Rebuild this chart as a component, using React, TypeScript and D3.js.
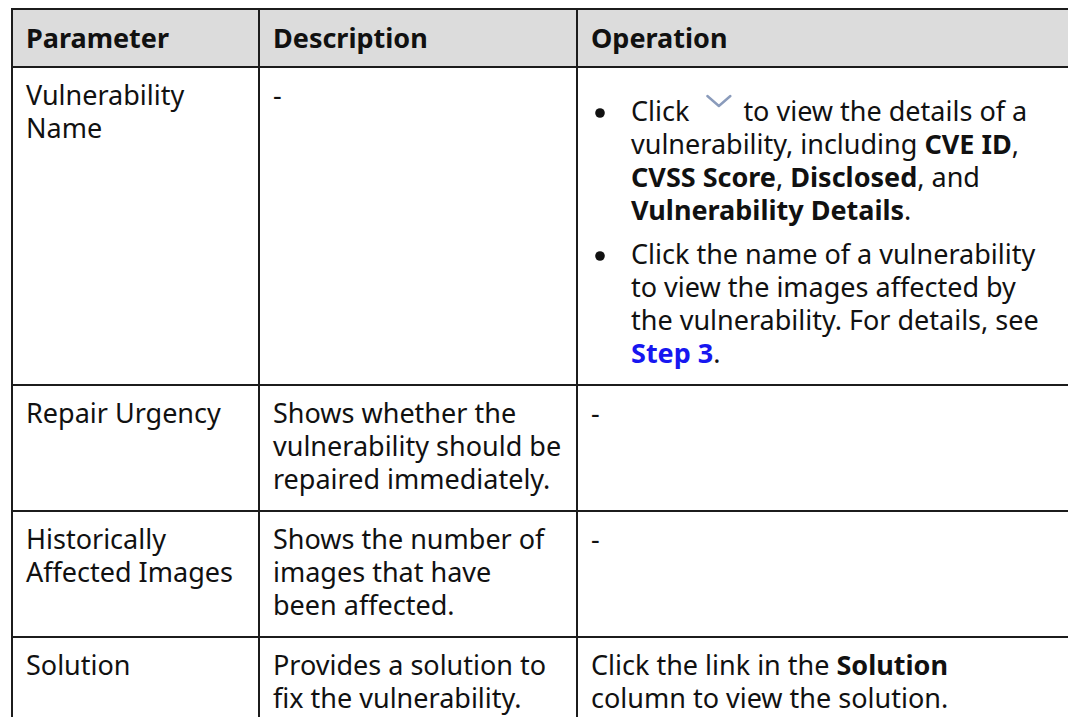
import { useRef, useEffect } from 'react';
import * as d3 from 'd3';

type Run = { t?: string; b?: boolean; link?: boolean; icon?: boolean };
type Line = Run[];

// table content
const headers = ['Parameter', 'Description', 'Operation'];

const paramLines: string[][] = [
  ['Vulnerability', 'Name'],
  ['Repair Urgency'],
  ['Historically', 'Affected Images'],
  ['Solution'],
];

const descLines: string[][] = [
  ['-'],
  ['Shows whether the', 'vulnerability should be', 'repaired immediately.'],
  ['Shows the number of', 'images that have', 'been affected.'],
  ['Provides a solution to', 'fix the vulnerability.'],
];

const opBullets: Line[][][] = [
  [
    [
      [{ t: 'Click' }, { icon: true }, { t: 'to view the details of a' }],
      [{ t: 'vulnerability, including ' }, { t: 'CVE ID', b: true }, { t: ',' }],
      [{ t: 'CVSS Score', b: true }, { t: ', ' }, { t: 'Disclosed', b: true }, { t: ', and' }],
      [{ t: 'Vulnerability Details', b: true }, { t: '.' }],
    ],
    [
      [{ t: 'Click the name of a vulnerability' }],
      [{ t: 'to view the images affected by' }],
      [{ t: 'the vulnerability. For details, see' }],
      [{ t: 'Step 3', link: true }, { t: '.' }],
    ],
  ],
  [],
  [],
  [],
];

const opLines: Line[][] = [
  [],
  [[{ t: '-' }]],
  [[{ t: '-' }]],
  [[{ t: 'Click the link in the ' }, { t: 'Solution', b: true }], [{ t: 'column to view the solution.' }]],
];

export default function App() {
  const svgRef = useRef<SVGSVGElement>(null);

  useEffect(() => {
    if (!svgRef.current) return;
    const svg = d3.select(svgRef.current);
    svg.selectAll('*').remove();

    const width = 1068;
    const height = 717;
    const font = '"Noto Sans", "Open Sans", sans-serif';
    const fontSize = 27;
    const lh = 33;
    const padTop = 39;
    const padBottom = 21;
    const listTop = 16;
    const bulletGap = 11;
    const textColor = '#111';
    const border = '#1c1c1c';

    const colEdges = [12, 259, 577, 1090];
    const colX = d3.scaleOrdinal<number, number>()
      .domain([0, 1, 2])
      .range(colEdges.slice(0, 3).map((e) => e + 14));

    // row heights from the number of lines in each cell
    const cellH = (i: number) => {
      const p = paramLines[i].length;
      const d = descLines[i].length;
      let o = opLines[i].length;
      let extra = 0;
      if (opBullets[i].length) {
        o = d3.sum(opBullets[i], (b) => b.length);
        extra = listTop + bulletGap * (opBullets[i].length - 1);
      }
      const n = Math.max(p, d, o);
      return padTop + (n - 1) * lh + padBottom + (o === n ? extra : 0);
    };
    const headerH = 58;
    const heights = [headerH, ...paramLines.map((_, i) => cellH(i))];
    const tops = [8, ...Array.from(d3.cumsum(heights)).map((h) => 8 + h)];

    const g = svg.append('g').attr('font-family', font).attr('font-size', fontSize).attr('fill', textColor);

    // header background
    g.append('rect')
      .attr('x', colEdges[0]).attr('y', tops[0])
      .attr('width', colEdges[3] - colEdges[0]).attr('height', heights[0])
      .attr('fill', '#dcdcdc');

    headers.forEach((h, c) => {
      g.append('text')
        .attr('x', colX(c)).attr('y', tops[0] + 40)
        .attr('font-weight', 700)
        .text(h);
    });

    const drawLine = (x: number, y: number, runs: Line) => {
      const t = g.append('text').attr('x', x).attr('y', y);
      let pendingDx = 0;
      runs.forEach((r) => {
        if (r.icon) {
          const w = (t.node() as SVGTextElement).getComputedTextLength();
          const cx = x + w + 18;
          g.append('path')
            .attr('d', `M${cx},${y - 25} L${cx + 11.5},${y - 15} L${cx + 23},${y - 25}`)
            .attr('fill', 'none')
            .attr('stroke', '#8a9bbb')
            .attr('stroke-width', 2.4)
            .attr('stroke-linecap', 'round')
            .attr('stroke-linejoin', 'round');
          pendingDx = 54;
          return;
        }
        const s = t.append('tspan').text(r.t ?? '');
        if (pendingDx) { s.attr('dx', pendingDx); pendingDx = 0; }
        if (r.b || r.link) s.attr('font-weight', 700);
        if (r.link) s.attr('fill', '#1717f0');
      });
    };

    paramLines.forEach((lines, i) => {
      const top = tops[i + 1];
      lines.forEach((l, k) => drawLine(colX(0), top + padTop + k * lh, [{ t: l }]));
      descLines[i].forEach((l, k) => drawLine(colX(1), top + padTop + k * lh, [{ t: l }]));
      opLines[i].forEach((l, k) => drawLine(colX(2), top + padTop + k * lh, l));
      let y = top + padTop + listTop;
      opBullets[i].forEach((b) => {
        g.append('circle').attr('cx', colEdges[2] + 23).attr('cy', y - 8).attr('r', 4.8).attr('fill', textColor);
        b.forEach((l, k) => drawLine(colEdges[2] + 54, y + k * lh, l));
        y += b.length * lh + bulletGap;
      });
    });

    // grid lines
    const lines = svg.append('g').attr('stroke', border).attr('stroke-width', 2);
    tops.forEach((y) => {
      lines.append('line').attr('x1', colEdges[0] - 1).attr('x2', colEdges[3]).attr('y1', y + 1).attr('y2', y + 1);
    });
    colEdges.forEach((x) => {
      lines.append('line').attr('x1', x).attr('x2', x).attr('y1', tops[0]).attr('y2', tops[tops.length - 1] + 2);
    });
  }, []);

  return (
    <svg
      ref={svgRef}
      width={1068}
      height={717}
      viewBox="0 0 1068 717"
      style={{ position: 'absolute', left: 0, top: 0, background: '#fff' }}
      role="img"
      aria-label="Vulnerability parameter table"
    />
  );
}
